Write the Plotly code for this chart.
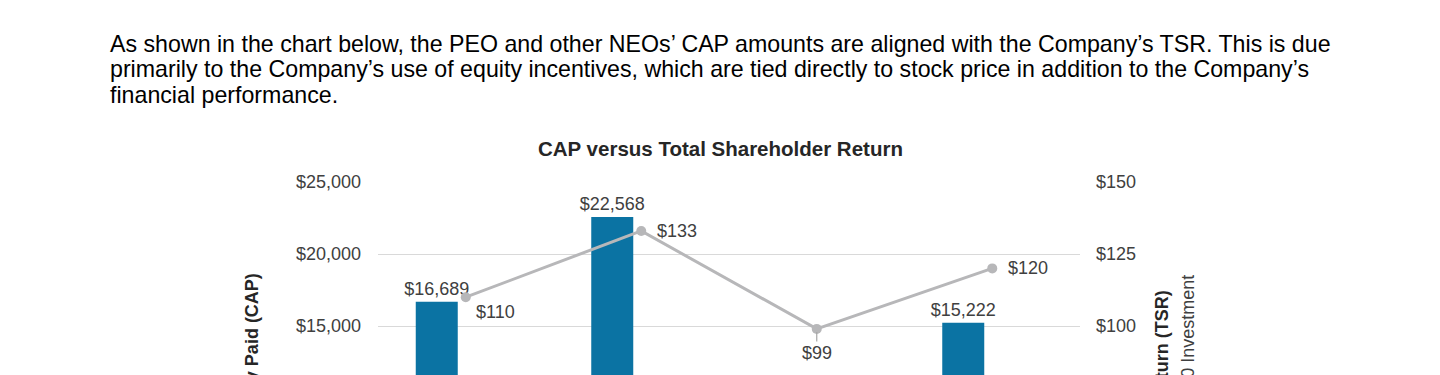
import plotly.graph_objects as go

# ---- data ----
years = ["2020", "2021", "2022", "2023"]
peo_cap = [16689, 22568, 7800, 15222]          # PEO CAP; 2022 bar below visible area, estimated
neo_cap = [4600, 5900, 2700, 4300]             # Average non-PEO NEO CAP; below visible area, estimated
tsr = [110, 133, 99, 120]                      # TSR: value of initial fixed $100 investment
left_ticks = [15000, 20000, 25000]
left_tick_text = ["$15,000", "$20,000", "$25,000"]
right_ticks = [100, 125, 150]
right_tick_text = ["$100", "$125", "$150"]

paragraph = ["As shown in the chart below, the PEO and other NEOs’ CAP amounts are aligned with the Company’s TSR. This is due",
             "primarily to the Company’s use of equity incentives, which are tied directly to stock price in addition to the Company’s",
             "financial performance."]

OFF = 8  # default page margin around the plot div
W, H = 1440 - OFF, 375 - OFF
ML = 378 - OFF
MT = 182 - OFF
MR = W - (1080 - OFF)
MB = 0
PW, PH = W - ML - MR, H - MT - MB


def xp(px):
    return (px - OFF - ML) / PW


def yp(py):
    return (H - (py - OFF)) / PH


BAR = "#0B73A3"
LINE = "#B7B7B9"
TXT = "#404040"
FONT = "Liberation Sans, Arial, sans-serif"

left_top, right_top = 25000, 150
px_per_left = 72 / 5000
px_per_right = 72 / 25
left_bottom = left_top - PH / px_per_left
right_bottom = right_top - PH / px_per_right

fig = go.Figure()
fig.add_trace(go.Bar(x=years, y=peo_cap, marker=dict(color=BAR, line=dict(width=0)), name="PEO CAP",
                     text=[f"${v:,.0f}" for v in peo_cap], textposition="outside", constraintext="none",
                     textfont=dict(size=18, color=TXT, family=FONT), cliponaxis=True))
fig.add_trace(go.Bar(x=years, y=neo_cap, marker=dict(color="#7F7F7F", line=dict(width=0)),
                     name="Average Non-PEO NEO CAP",
                     text=[f"${v:,.0f}" for v in neo_cap], textposition="outside", constraintext="none",
                     textfont=dict(size=18, color=TXT, family=FONT), cliponaxis=True))
fig.add_trace(go.Scatter(x=years, y=tsr, yaxis="y2", mode="lines+markers", name="TSR",
                         line=dict(color=LINE, width=3), marker=dict(color=LINE, size=10),
                         cliponaxis=False))

# TSR labels (x given as category index)
label_style = {0: (8, -15, "left"), 1: (14, 0, "left"), 3: (14, 0, "left")}
for i, v in enumerate(tsr):
    if i in label_style:
        dx, dy, anc = label_style[i]
        fig.add_annotation(x=i, y=v, yref="y2", text=f"${v}", showarrow=False,
                           xanchor=anc, yanchor="middle", xshift=dx, yshift=dy,
                           font=dict(size=18, color=TXT, family=FONT))
    else:
        fig.add_annotation(x=i, y=v, yref="y2", text=f"${v}", showarrow=True,
                           arrowhead=0, arrowwidth=1.2, arrowcolor="#A6A6A6", ax=0, ay=24, standoff=3,
                           font=dict(size=18, color=TXT, family=FONT))

# paragraph, one line each
for i, line in enumerate(paragraph):
    fig.add_annotation(xref="paper", yref="paper", x=xp(109), y=yp(44 + 25.5 * i), xanchor="left",
                       yanchor="middle", text=line, align="left", showarrow=False, borderpad=0,
                       font=dict(size=23.2, color="#000000", family=FONT))
# title
fig.add_annotation(xref="paper", yref="paper", x=xp(720), y=yp(148), xanchor="center", yanchor="middle",
                   text="<b>CAP versus Total Shareholder Return</b>", showarrow=False,
                   font=dict(size=20.5, color="#262626", family=FONT))
# left axis title
fig.add_annotation(xref="paper", yref="paper", x=xp(251), y=yp(272), xanchor="center", yanchor="top",
                   text="<b>Compensation Actually Paid (CAP)</b>", textangle=-90, showarrow=False,
                   font=dict(size=18, color="#262626", family=FONT))
# right axis titles
fig.add_annotation(xref="paper", yref="paper", x=xp(1162), y=yp(288), xanchor="center", yanchor="top",
                   text="<b>Total Shareholder Return (TSR)</b>", textangle=-90, showarrow=False,
                   font=dict(size=18, color="#262626", family=FONT))
fig.add_annotation(xref="paper", yref="paper", x=xp(1187), y=yp(273), xanchor="center", yanchor="top",
                   text="Value of Initial Fixed $100 Investment", textangle=-90, showarrow=False,
                   font=dict(size=18, color="#404040", family=FONT))

fig.update_layout(
    width=W, height=H, margin=dict(l=ML, r=MR, t=MT, b=MB, pad=0, autoexpand=False),
    paper_bgcolor="white", plot_bgcolor="white", showlegend=False,
    barmode="group", bargap=0.339, bargroupgap=0.276,
    font=dict(family=FONT, color=TXT, size=18),
    xaxis=dict(type="category", range=[-0.5, len(years) - 0.5], autorange=False,
               showticklabels=False, showgrid=False, zeroline=False, showline=False),
    yaxis=dict(range=[left_bottom, left_top], autorange=False, tickvals=left_ticks, ticktext=left_tick_text,
               showgrid=True, gridcolor="#D9D9D9", gridwidth=1, zeroline=False, showline=False,
               ticks="", ticklabelstandoff=16, tickfont=dict(size=18, color=TXT, family=FONT)),
    yaxis2=dict(range=[right_bottom, right_top], autorange=False, tickvals=right_ticks, ticktext=right_tick_text,
                overlaying="y", side="right", showgrid=False, zeroline=False, showline=False,
                ticks="", ticklabelstandoff=15, tickfont=dict(size=18, color=TXT, family=FONT)),
)

fig.write_html("out.html")
